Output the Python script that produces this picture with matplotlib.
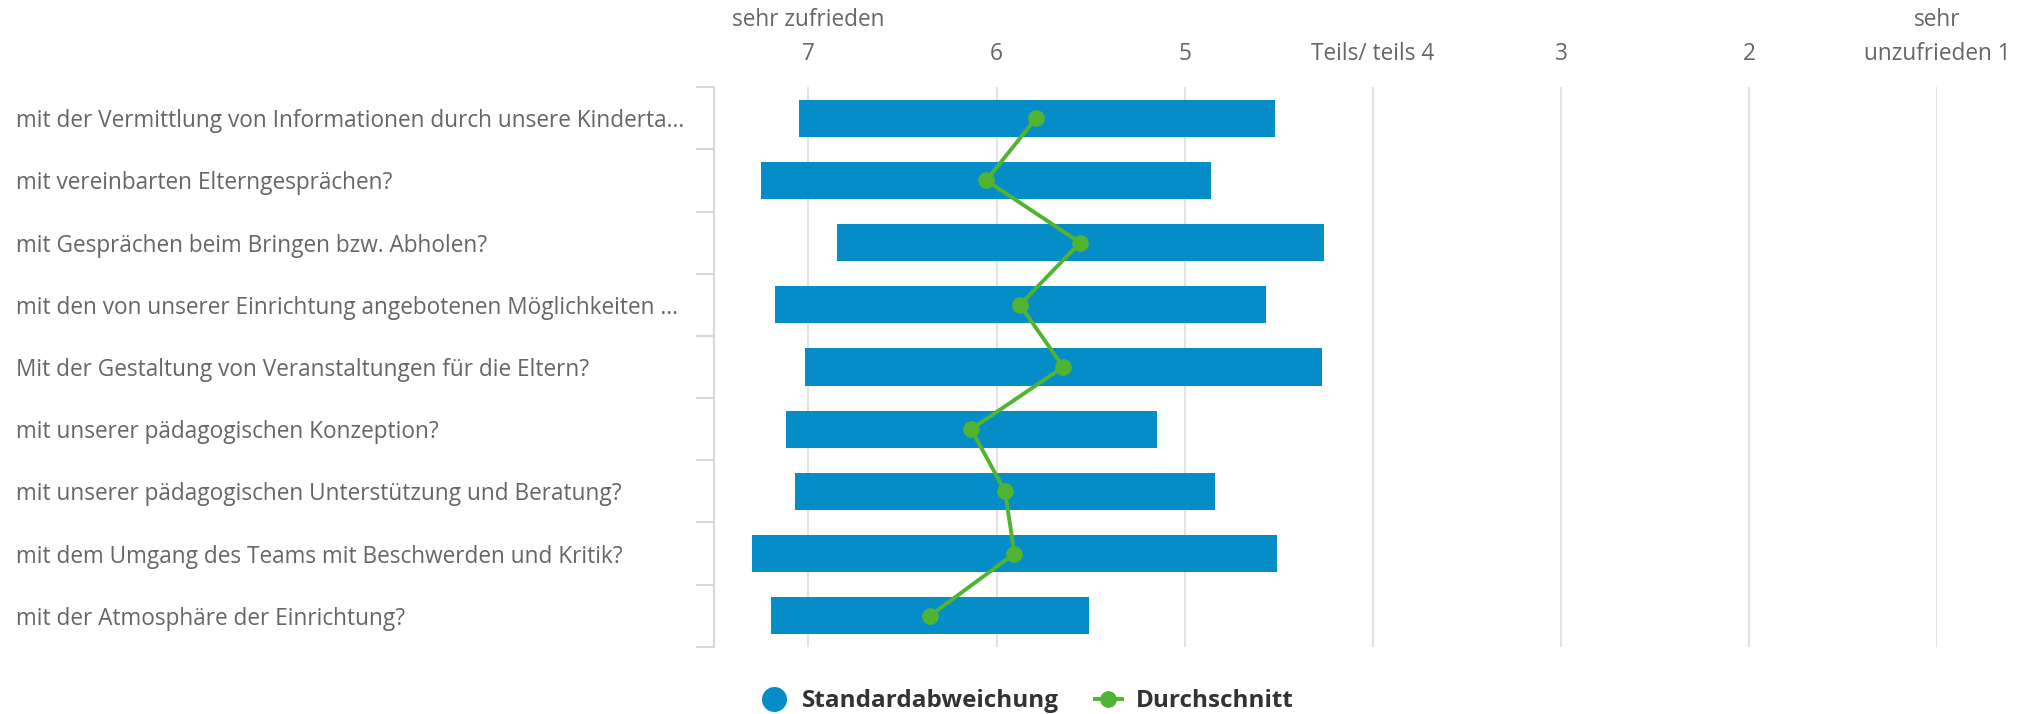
import numpy as np
import matplotlib
matplotlib.use("Agg")
import matplotlib.pyplot as plt
from matplotlib.lines import Line2D

plt.rcParams['font.family'] = ['Open Sans', 'DejaVu Sans']

### data
questions = [
    "mit der Vermittlung von Informationen durch unsere Kinderta...",
    "mit vereinbarten Elterngesprächen?",
    "mit Gesprächen beim Bringen bzw. Abholen?",
    "mit den von unserer Einrichtung angebotenen Möglichkeiten ...",
    "Mit der Gestaltung von Veranstaltungen für die Eltern?",
    "mit unserer pädagogischen Konzeption?",
    "mit unserer pädagogischen Unterstützung und Beratung?",
    "mit dem Umgang des Teams mit Beschwerden und Kritik?",
    "mit der Atmosphäre der Einrichtung?",
]
sd_low = [7.05, 7.25, 6.85, 7.18, 7.02, 7.12, 7.07, 7.30, 7.20]
sd_high = [4.52, 4.86, 4.26, 4.57, 4.27, 5.15, 4.84, 4.51, 5.51]
mean = [5.79, 6.055, 5.556, 5.876, 5.646, 6.135, 5.955, 5.905, 6.354]

scale_ticks = [7, 6, 5, 4, 3, 2, 1]
scale_labels = ["sehr zufrieden\n7", "6", "5", "Teils/ teils 4", "3", "2", "sehr\nunzufrieden 1"]

blue = "#058DC7"
green = "#50B432"
grey_text = "#666666"
axis_grey = "#d8d8d8"

fig = plt.figure(figsize=(20.18, 7.14), dpi=100)
ax = fig.add_axes([0.354, 0.094, 0.606, 0.784])

y = np.arange(len(questions))
lo = np.array(sd_low)
hi = np.array(sd_high)
ax.barh(y, hi - lo, left=lo, height=0.6, color=blue, zorder=2)
ax.plot(mean, y, color=green, lw=2.8, marker="o", markersize=11, zorder=3)

ax.set_xlim(7.5, 1)
ax.set_ylim(len(questions) - 0.5, -0.5)

# x axis on top with scale labels
ax.xaxis.tick_top()
ax.set_xticks(scale_ticks)
ax.set_xticklabels(scale_labels, fontsize=16.3, color=grey_text,
                   multialignment="center", linespacing=1.55)
ax.tick_params(axis="x", length=0, pad=15)
ax.grid(axis="x", color="#e3e3e3", lw=1.5, zorder=0)

# y labels left aligned near figure edge, ticks at category borders
ax.set_yticks(y)
ax.set_yticklabels(questions, fontsize=16.3, color=grey_text)
for lab in ax.get_yticklabels():
    lab.set_ha("left")
ax.tick_params(axis="y", which="major", length=0, pad=503)
ax.set_yticks(np.arange(len(questions) + 1) - 0.5, minor=True)
ax.tick_params(axis="y", which="minor", length=13, width=1.5, color=axis_grey)

for s in ["top", "right", "bottom"]:
    ax.spines[s].set_visible(False)
ax.spines["left"].set_color(axis_grey)
ax.spines["left"].set_linewidth(1.5)

handles = [
    Line2D([], [], ls="none", marker="o", markersize=17, color=blue),
    Line2D([], [], color=green, lw=2.8, marker="o", markersize=11),
]
leg = fig.legend(handles, ["Standardabweichung", "Durchschnitt"], loc="center",
                 bbox_to_anchor=(0.509, 0.018), ncol=2, frameon=False, handlelength=1.1,
                 columnspacing=1.5, handletextpad=0.6,
                 prop={"weight": "bold", "size": 17.5})
for t in leg.get_texts():
    t.set_color("#333333")

fig.savefig("out.png", dpi=100)
